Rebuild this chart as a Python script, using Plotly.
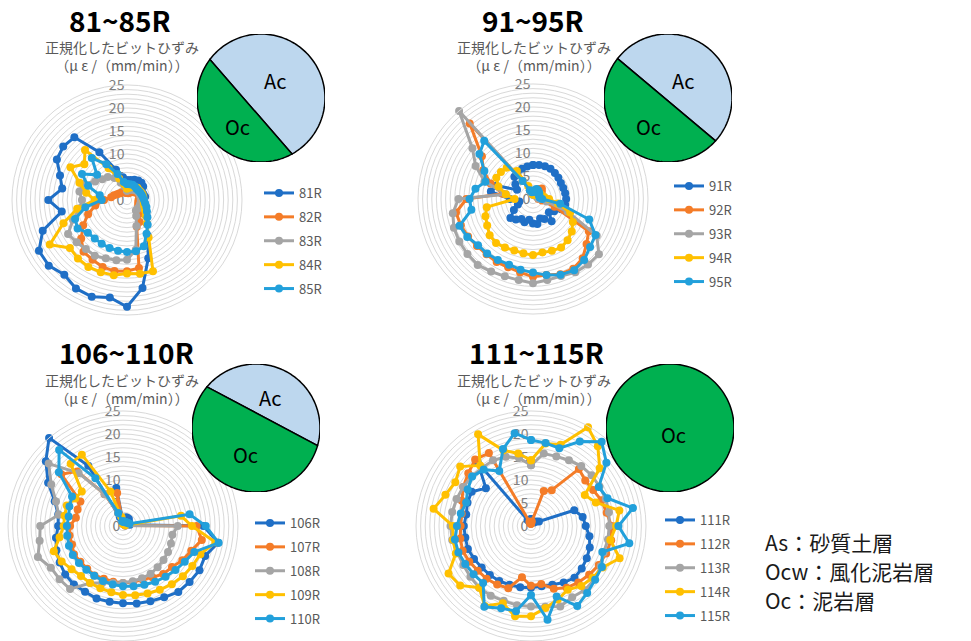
import numpy as np
import plotly.graph_objects as go

W, H = 971, 641

# 36 measurement directions, 10 degrees apart, clockwise from the top
angles = list(range(0, 360, 10))

# ---- 81~85R ----
r_81 = [4.3, 4.4, 4.7, 4.9, 4.9, 4.6, 3.7, 3.8, 4.0, 3.6,
        3.6, 4.0, 4.6, 5.5, 6.8, 9.0, 13.5, 19.4, 23.2, 21.5,
        22.4, 22.2, 21.2, 22.2, 22.1, 19.5, 14.4, 17.1, 14.3, 15.5,
        17.6, 18.1, 17.8, 12.0, 7.0, 5.0]
r_82 = [1.5, 1.5, 1.7, 2.0, 2.2, 2.5, 2.7, 2.8, 2.8, 2.5,
        2.5, 2.6, 2.8, 3.2, 4.0, 5.5, 6.2, 15.0, 15.5, 15.7,
        15.5, 15.0, 14.7, 13.0, 11.0, 9.0, 7.0, 5.0, 3.5, 3.0,
        2.5, 2.2, 2.0, 2.0, 1.8, 1.6]
r_83 = [2.0, 2.2, 2.4, 2.6, 2.8, 3.0, 3.0, 3.0, 3.0, 3.0,
        3.0, 3.0, 3.0, 3.0, 3.0, 4.0, 6.0, 11.0, 13.0, 13.3,
        13.5, 14.0, 13.9, 14.3, 14.8, 12.5, 10.4, 9.8, 10.5, 10.3,
        8.0, 7.0, 6.5, 5.5, 4.0, 3.0]
r_84 = [2.5, 2.7, 3.0, 3.2, 3.5, 3.4, 3.5, 3.6, 3.6, 3.6,
        3.7, 4.0, 4.5, 5.3, 6.7, 9.4, 16.5, 16.3, 16.0, 16.6,
        16.7, 16.8, 16.6, 16.2, 19.4, 14.7, 11.0, 7.0, 9.0, 11.0,
        14.2, 12.1, 14.2, 8.0, 5.0, 3.5]
r_85 = [3.5, 3.5, 3.5, 3.4, 3.2, 3.2, 3.3, 3.4, 3.5, 3.7,
        4.0, 4.5, 5.0, 5.8, 7.0, 8.5, 10.7, 11.3, 11.3, 11.2,
        11.1, 11.0, 10.9, 11.1, 12.4, 12.0, 9.2, 5.5, 6.0, 9.0,
        11.3, 8.5, 11.9, 9.0, 6.0, 4.0]

# ---- 91~95R ----
r_91 = [7.4, 7.5, 7.6, 7.6, 7.4, 7.2, 7.0, 7.0, 7.1, 7.2,
        7.1, 6.5, 5.3, 4.5, 6.3, 5.0, 4.5, 5.5, 5.3, 4.6,
        5.4, 5.0, 5.8, 6.4, 4.8, 3.5, 3.0, 5.0, 9.3, 8.5,
        4.0, 5.0, 6.3, 6.7, 7.0, 7.2]
r_92 = [1.5, 1.5, 2.0, 2.5, 3.0, 2.5, 2.0, 1.5, 1.2, 1.2,
        2.0, 5.0, 14.0, 15.2, 16.8, 17.5, 17.4, 16.8, 16.9, 16.2,
        15.8, 15.8, 15.7, 15.9, 16.3, 16.7, 17.0, 14.5, 6.7, 9.8,
        12.5, 14.5, 21.4, 4.5, 2.0, 1.5]
r_93 = [1.0, 1.0, 1.0, 1.0, 1.0, 1.0, 1.0, 1.0, 1.2, 1.5,
        3.0, 8.0, 16.0, 18.7, 18.6, 18.4, 17.8, 17.9, 18.3, 17.9,
        17.9, 18.2, 18.7, 18.6, 18.5, 18.3, 17.7, 16.2, 6.0, 11.2,
        14.4, 17.2, 25.0, 4.5, 2.0, 1.0]
r_94 = [1.0, 1.0, 1.0, 1.2, 1.5, 1.8, 2.0, 2.0, 2.5, 3.5,
        5.5, 8.6, 10.0, 11.0, 11.7, 12.2, 12.0, 11.8, 12.2, 12.0,
        11.9, 12.2, 12.5, 12.3, 11.5, 11.0, 10.2, 4.0, 6.0, 8.0,
        9.2, 9.1, 8.9, 7.0, 3.0, 1.5]
r_95 = [1.5, 2.0, 2.3, 2.2, 2.0, 1.8, 1.5, 1.5, 1.5, 2.0,
        6.0, 13.0, 15.7, 16.2, 17.3, 17.9, 17.5, 16.8, 16.0, 15.6,
        15.2, 15.3, 15.5, 15.6, 16.5, 17.0, 13.6, 13.8, 12.7, 11.0,
        12.2, 15.2, 16.5, 4.5, 2.0, 1.5]

# ---- 106~110R ----
r_106 = [1.0, 1.5, 2.0, 2.0, 2.0, 1.5, 1.5, 1.5, 1.5, 17.5,
         21.0, 19.0, 19.2, 18.9, 18.7, 17.9, 17.4, 17.1, 16.8, 16.7,
         16.8, 16.5, 16.6, 16.4, 15.9, 15.4, 14.8, 14.1, 14.3, 15.8,
         18.8, 21.9, 25.0, 15.1, 2.0, 8.4]
r_107 = [0.5, 0.5, 0.5, 0.5, 0.5, 0.5, 0.5, 0.5, 0.5, 16.0,
         17.4, 15.8, 14.9, 13.9, 13.6, 12.9, 12.4, 12.4, 12.4, 12.3,
         12.2, 12.4, 12.1, 12.1, 12.3, 11.8, 11.8, 11.5, 10.4, 10.5,
         10.7, 17.5, 15.5, 8.0, 3.0, 7.3]
r_108 = [0.5, 0.5, 0.5, 0.5, 0.5, 0.5, 0.5, 0.5, 0.5, 11.9,
         10.9, 11.1, 11.3, 11.5, 11.7, 12.0, 12.1, 12.2, 12.4, 12.6,
         13.2, 14.3, 17.9, 18.0, 18.1, 19.7, 18.4, 18.0, 14.2, 15.5,
         18.0, 21.1, 15.0, 8.0, 3.0, 2.0]
r_109 = [0.5, 0.5, 0.5, 0.5, 0.5, 0.5, 0.5, 0.5, 12.8, 15.0,
         20.4, 17.9, 17.4, 17.0, 16.5, 16.0, 15.6, 15.3, 15.0, 14.6,
         14.4, 14.3, 14.2, 14.6, 15.4, 16.0, 14.0, 12.9, 12.9, 13.0,
         12.0, 11.7, 17.7, 17.9, 8.0, 2.0]
r_110 = [1.0, 1.0, 1.0, 1.0, 1.0, 1.2, 1.3, 1.5, 14.7, 18.0,
         21.1, 16.5, 15.5, 14.9, 14.4, 14.0, 13.6, 13.3, 13.1, 12.9,
         12.7, 12.5, 12.4, 12.5, 12.6, 12.5, 12.3, 12.2, 12.0, 12.4,
         12.8, 18.2, 21.6, 12.0, 3.0, 1.0]

# ---- 111~115R ----
r_111 = [1.5, 1.0, 1.0, 1.0, 1.0, 1.5, 2.0, 10.0, 11.4, 11.9,
         12.9, 13.6, 14.0, 14.4, 14.7, 14.2, 13.6, 13.3, 13.4, 13.5,
         13.6, 13.8, 13.9, 14.0, 14.3, 14.6, 14.5, 14.6, 14.3, 14.7,
         14.9, 12.8, 18.0, 1.5, 1.0, 1.0]
r_112 = [0.5, 1.0, 8.1, 9.0, 16.2, 15.4, 15.6, 16.3, 16.7, 17.5,
         17.7, 17.4, 17.0, 16.5, 16.0, 15.5, 14.5, 12.8, 13.0, 11.3,
         14.4, 14.7, 15.0, 15.1, 15.5, 15.8, 15.6, 15.3, 15.3, 16.0,
         17.0, 17.8, 18.9, 18.3, 1.0, 0.5]
r_113 = [13.2, 16.0, 16.1, 16.5, 17.0, 17.2, 17.2, 17.3, 17.2, 17.0,
         17.0, 16.8, 17.5, 18.0, 18.2, 17.9, 18.6, 17.8, 17.5, 17.5,
         17.3, 17.5, 17.5, 17.2, 17.0, 17.0, 17.4, 17.5, 17.4, 17.2,
         17.0, 16.8, 16.5, 16.5, 16.0, 15.0]
r_114 = [14.3, 18.2, 18.8, 24.8, 22.6, 19.5, 13.5, 15.0, 19.5, 18.5,
         17.5, 20.5, 18.0, 17.5, 17.0, 16.0, 17.0, 18.1, 19.6, 19.9,
         17.9, 20.1, 17.5, 20.1, 20.7, 17.4, 17.2, 17.0, 21.5, 19.8,
         19.0, 20.1, 17.2, 23.0, 17.5, 16.0]
r_115 = [18.7, 18.3, 18.0, 21.2, 23.9, 21.4, 17.0, 17.7, 22.5, 19.0,
         21.7, 16.5, 17.8, 18.2, 19.0, 20.1, 16.3, 20.7, 15.0, 18.8,
         19.0, 20.3, 16.2, 16.3, 16.5, 16.8, 16.8, 16.1, 15.5, 15.0,
         15.9, 16.7, 16.0, 13.8, 17.8, 20.5]

group_titles = ["81~85R", "91~95R", "106~110R", "111~115R"]
series_names = [["81R", "82R", "83R", "84R", "85R"],
                ["91R", "92R", "93R", "94R", "95R"],
                ["106R", "107R", "108R", "109R", "110R"],
                ["111R", "112R", "113R", "114R", "115R"]]
series_values = [[r_81, r_82, r_83, r_84, r_85],
                 [r_91, r_92, r_93, r_94, r_95],
                 [r_106, r_107, r_108, r_109, r_110],
                 [r_111, r_112, r_113, r_114, r_115]]

# face geology: chord end angles (deg, counter-clockwise from east) between Ac and Oc
layer_boundary = [(143, 299), (142, 318), (140, 344), None]

radial_ticks = list(range(0, 26))
radial_text = [str(v) if v % 5 == 0 else "" for v in radial_ticks]

# key to the geology abbreviations
layer_key = ["As：砂質土層", "Ocw：風化泥岩層", "Oc：泥岩層"]

colors = ["#1F6FC6", "#F47C28", "#A5A5A5", "#FFC000", "#22A0DB"]
FONT = "Noto Sans CJK JP"
AC_COLOR = "#BDD7EE"
OC_COLOR = "#00B050"

# panel geometry in pixels
polar_centers = [(127, 200), (533, 199), (123, 526), (531, 526)]
polar_radius = 115
pie_centers = [(261, 98), (668, 98), (256, 428), (670, 428)]
pie_radius = 64
legend_pos = [(259, 178), (669, 171), (250, 508), (660, 505)]
title_pos = [(120, 20), (533, 20), (127, 352), (536, 352)]
subtitle_pos = [(122, 56), (534, 56), (122, 389), (534, 389)]


def px_domain(cx, cy, r):
    return dict(x=[(cx - r) / W, (cx + r) / W],
                y=[max(0.0, 1 - (cy + r) / H), min(1.0, 1 - (cy - r) / H)])


def text_at(text, x, y, size, color, **kw):
    return dict(text=text, x=x / W, y=1 - y / H, xref="paper", yref="paper",
                xanchor=kw.pop("xanchor", "center"), yanchor="middle", showarrow=False,
                font=dict(size=size, color=color, family=FONT), **kw)


def arc_path(a0, a1):
    t = np.radians(np.linspace(a0, a1, 121))
    pts = [f"{np.cos(v):.4f},{np.sin(v):.4f}" for v in t]
    return "M" + " L".join(pts) + " Z"


fig = go.Figure()
layout = dict(width=W, height=H, margin=dict(l=0, r=0, t=0, b=0),
              paper_bgcolor="white", plot_bgcolor="white",
              font=dict(family=FONT, color="#595959"), shapes=[], annotations=[])

for p in range(4):
    pk = "polar" if p == 0 else f"polar{p + 1}"
    lk = "legend" if p == 0 else f"legend{p + 1}"
    for s in range(5):
        vals = series_values[p][s]
        fig.add_trace(go.Scatterpolar(
            r=vals + vals[:1], theta=angles + angles[:1],
            mode="lines+markers", name=series_names[p][s],
            line=dict(color=colors[s], width=3),
            marker=dict(color=colors[s], size=8),
            subplot=pk, legend=lk, legendgroup=f"{p}-{s}"))

    cx, cy = polar_centers[p]
    layout[pk] = dict(
        domain=px_domain(cx, cy, polar_radius),
        bgcolor="rgba(0,0,0,0)",
        radialaxis=dict(range=[0, 25], tickmode="array", tickvals=radial_ticks,
                        ticktext=radial_text, showline=False, showgrid=True,
                        gridcolor="#D9D9D9", gridwidth=1, ticks="", angle=90,
                        side="counterclockwise", tickangle=90,
                        tickfont=dict(size=14, color="#808080"), layer="below traces"),
        angularaxis=dict(rotation=90, direction="clockwise", showticklabels=False,
                         ticks="", showgrid=False, showline=True,
                         linecolor="#D9D9D9", linewidth=1),
    )

    lx, ly = legend_pos[p]
    layout[lk] = dict(x=lx / W, y=1 - ly / H, xanchor="left", yanchor="top",
                      bgcolor="rgba(0,0,0,0)", tracegroupgap=4,
                      font=dict(size=13, color="#595959", family=FONT))

    # group title and two-line axis title
    tx, ty = title_pos[p]
    layout["annotations"].append(text_at(f"<b>{group_titles[p]}</b>", tx, ty, 28, "#000000"))
    sx, sy = subtitle_pos[p]
    layout["annotations"].append(text_at("正規化したビットひずみ<br>（μ ε /（mm/min））",
                                         sx, sy, 14, "#595959"))

    # geology circle on its own hidden square axes
    xk = "x" if p == 0 else f"x{p + 1}"
    yk = "y" if p == 0 else f"y{p + 1}"
    xa = "xaxis" if p == 0 else f"xaxis{p + 1}"
    ya = "yaxis" if p == 0 else f"yaxis{p + 1}"
    pcx, pcy = pie_centers[p]
    d = px_domain(pcx, pcy, pie_radius)
    layout[xa] = dict(domain=d["x"], range=[-1, 1], visible=False, anchor=yk, fixedrange=True)
    layout[ya] = dict(domain=d["y"], range=[-1, 1], visible=False, anchor=xk, fixedrange=True)
    fig.add_trace(go.Scatter(x=[None], y=[None], xaxis=xk, yaxis=yk,
                             showlegend=False, hoverinfo="skip"))

    b = layer_boundary[p]
    if b is None:
        layout["shapes"].append(dict(type="path", path=arc_path(0, 360), xref=xk, yref=yk,
                                     fillcolor=OC_COLOR, line=dict(color="black", width=1.5),
                                     layer="above"))
        layout["annotations"].append(dict(text="Oc", x=0.05, y=-0.1, xref=xk, yref=yk,
                                          showarrow=False, font=dict(size=20, color="black")))
    else:
        b1, b2 = b
        layout["shapes"].append(dict(type="path", path=arc_path(b2 - 360, b1), xref=xk, yref=yk,
                                     fillcolor=AC_COLOR, line=dict(color="black", width=1.5),
                                     layer="above"))
        layout["shapes"].append(dict(type="path", path=arc_path(b1, b2), xref=xk, yref=yk,
                                     fillcolor=OC_COLOR, line=dict(color="black", width=1.5),
                                     layer="above"))
        ac_xy = [(0.22, 0.28), (0.23, 0.28), (0.22, 0.48)][p]
        oc_xy = [(-0.36, -0.45), (-0.31, -0.45), (-0.17, -0.42)][p]
        layout["annotations"].append(dict(text="Ac", x=ac_xy[0], y=ac_xy[1], xref=xk, yref=yk,
                                          showarrow=False, font=dict(size=20, color="black")))
        layout["annotations"].append(dict(text="Oc", x=oc_xy[0], y=oc_xy[1], xref=xk, yref=yk,
                                          showarrow=False, font=dict(size=20, color="black")))

# abbreviation key, one line per layer
for i, line in enumerate(layer_key):
    layout["annotations"].append(text_at(line, 763, 542 + 29 * i, 21, "#1A1A1A",
                                         xanchor="left"))

fig.update_layout(**layout)
fig.write_html("out.html")
